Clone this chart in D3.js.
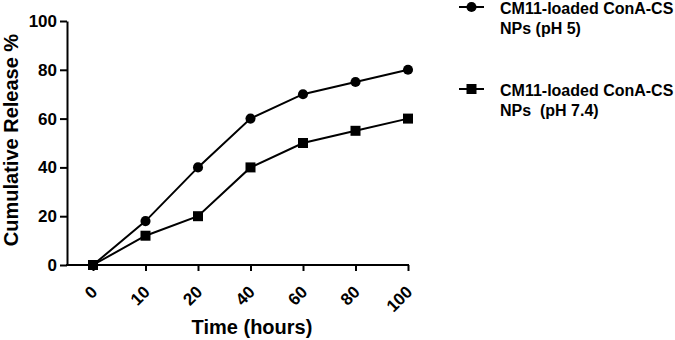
<!DOCTYPE html>
<html>
<head>
<meta charset="utf-8">
<style>
body { margin: 0; background: #fff; }
text { font-family: Arial, "Liberation Sans", sans-serif; font-weight: bold; fill: #000; }
</style>
</head>
<body>
<div class="container"></div>
<script src="https://cdn.jsdelivr.net/npm/d3@7"></script>
<script>

var width = 675;
var height = 340;

// data
var times = ["0", "10", "20", "40", "60", "80", "100"];
var releasePH5 = [0, 18, 40, 60, 70, 75, 80];
var releasePH74 = [0, 12, 20, 40, 50, 55, 60];
var seriesNames = ["CM11-loaded ConA-CS|NPs (pH 5)", "CM11-loaded ConA-CS|NPs  (pH 7.4)"];
var yTicks = [0, 20, 40, 60, 80, 100];

var svg = d3.select(".container")
            .append("svg")
                .attr("width", width)
                .attr("height", height);

var x = d3.scalePoint().domain(times).range([93, 408]);
var y = d3.scaleLinear().domain([0, 100]).range([265, 21]);

// y axis
var yAxis = svg.append("g")
    .attr("transform", "translate(67,0)")
    .call(d3.axisLeft(y).tickValues(yTicks).tickSize(7).tickSizeOuter(0));
yAxis.select(".domain").attr("stroke-width", 2);
yAxis.selectAll(".tick line").attr("stroke-width", 2);
yAxis.selectAll(".tick text")
    .attr("x", -10)
    .style("font-size", "17px")
    .style("font-weight", "bold");

// x axis (line runs from y axis to last tick)
var xAxis = svg.append("g")
    .attr("transform", "translate(0,265)")
    .call(d3.axisBottom(x).tickSize(6).tickSizeOuter(0));
xAxis.select(".domain").remove();
xAxis.append("line")
    .attr("x1", 66).attr("x2", x("100") + 1)
    .attr("stroke", "#000").attr("stroke-width", 2);
xAxis.selectAll(".tick line").attr("stroke-width", 2);
xAxis.selectAll(".tick text")
    .attr("text-anchor", "end")
    .attr("y", 0)
    .attr("dy", null)
    .attr("transform", "translate(5,28) rotate(-45)")
    .style("font-size", "17px")
    .style("font-weight", "bold");

// axis titles
svg.append("text")
    .attr("x", 252).attr("y", 334)
    .attr("text-anchor", "middle")
    .style("font-size", "20px")
    .text("Time (hours)");

svg.append("text")
    .attr("transform", "translate(18,140) rotate(-90)")
    .attr("text-anchor", "middle")
    .style("font-size", "20px")
    .text("Cumulative Release %");

// lines and markers
var line = d3.line()
    .x(function(d, i) { return x(times[i]); })
    .y(function(d) { return y(d); });

[releasePH5, releasePH74].forEach(function(vals) {
    svg.append("path")
        .datum(vals)
        .attr("d", line)
        .attr("fill", "none")
        .attr("stroke", "#000")
        .attr("stroke-width", 2);
});

var circle = d3.symbol().type(d3.symbolCircle).size(80);
var square = d3.symbol().type(d3.symbolSquare).size(100);

svg.selectAll(".pt74")
    .data(releasePH74)
    .enter().append("path")
        .attr("class", "pt74")
        .attr("d", square)
        .attr("transform", function(d, i) { return "translate(" + x(times[i]) + "," + y(d) + ")"; })
        .attr("fill", "#000");

svg.selectAll(".pt5")
    .data(releasePH5)
    .enter().append("path")
        .attr("class", "pt5")
        .attr("d", circle)
        .attr("transform", function(d, i) { return "translate(" + x(times[i]) + "," + y(d) + ")"; })
        .attr("fill", "#000");

// legend
var legendY = [7, 89];
var legendSym = [circle, square];
seriesNames.forEach(function(name, i) {
    var g = svg.append("g").attr("transform", "translate(459," + legendY[i] + ")");
    g.append("line")
        .attr("x1", 0).attr("x2", 25)
        .attr("stroke", "#000").attr("stroke-width", 2);
    g.append("path")
        .attr("d", legendSym[i])
        .attr("transform", "translate(12.5,0)")
        .attr("fill", "#000");
    name.split("|").forEach(function(part, j) {
        g.append("text")
            .attr("x", 41).attr("y", 6.5 + j * 20)
            .style("font-size", "16px")
            .style("white-space", "pre")
            .text(part);
    });
});

</script>
</body>
</html>
